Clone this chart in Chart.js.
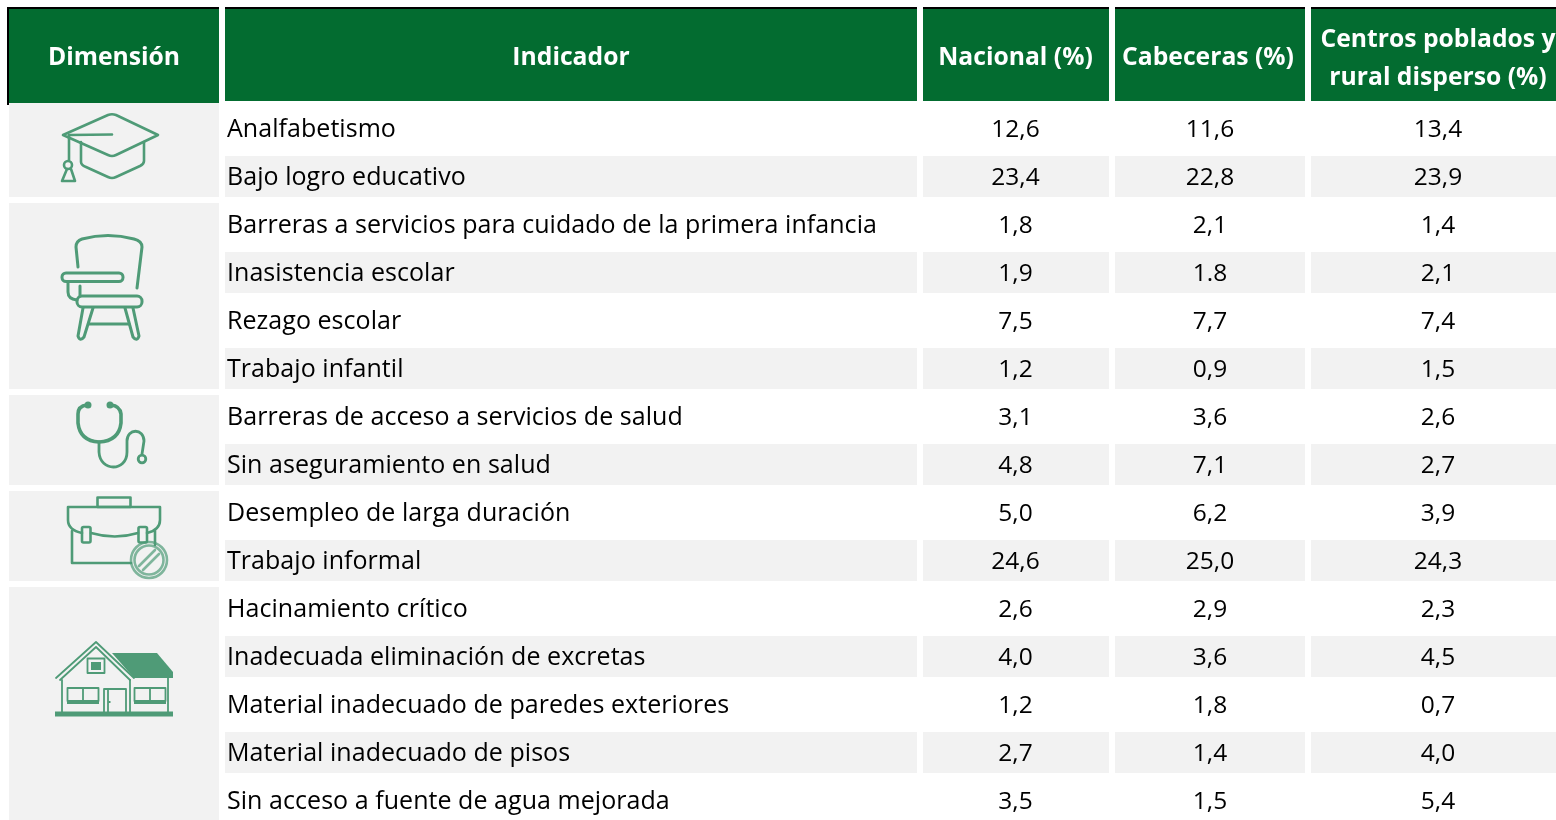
<!DOCTYPE html>
<html>
<head>
<meta charset="utf-8">
<title>Indicadores</title>
<style>
html, body { margin: 0; padding: 0; background: #fff; overflow: hidden; }
#marco { width: 1556px; height: 820px; overflow: hidden; }
canvas { display: block; }
</style>
</head>
<body>
<div id="marco"><canvas id="tabla" width="1556" height="840"></canvas></div>
<script src="https://cdn.jsdelivr.net/npm/chart.js@4/dist/chart.umd.min.js"></script>
<script>
const indicadores = [
    "Analfabetismo",
    "Bajo logro educativo",
    "Barreras a servicios para cuidado de la primera infancia",
    "Inasistencia escolar",
    "Rezago escolar",
    "Trabajo infantil",
    "Barreras de acceso a servicios de salud",
    "Sin aseguramiento en salud",
    "Desempleo de larga duración",
    "Trabajo informal",
    "Hacinamiento crítico",
    "Inadecuada eliminación de excretas",
    "Material inadecuado de paredes exteriores",
    "Material inadecuado de pisos",
    "Sin acceso a fuente de agua mejorada"
];
const nacional = [12.6, 23.4, 1.8, 1.9, 7.5, 1.2, 3.1, 4.8, 5.0, 24.6, 2.6, 4.0, 1.2, 2.7, 3.5];
const cabeceras = [11.6, 22.8, 2.1, 1.8, 7.7, 0.9, 3.6, 7.1, 6.2, 25.0, 2.9, 3.6, 1.8, 1.4, 1.5];
const centrosPoblados = [13.4, 23.9, 1.4, 2.1, 7.4, 1.5, 2.6, 2.7, 3.9, 24.3, 2.3, 4.5, 0.7, 4.0, 5.4];
const filasPorDimension = [2, 4, 2, 2, 5];

const encabezados = ["Dimensión", "Indicador", "Nacional (%)", "Cabeceras (%)", ["Centros poblados y", "rural disperso (%)"]];
const bordesColumna = [[9, 219], [225, 917], [923, 1109], [1115, 1305], [1311, 1556]];
const centrosEncabezado = [114, 571, 1015.5, 1208, 1438];

const VERDE = '#036c30';
const GRIS = '#f2f2f2';
const ICONO = '#4f9b77';
const FUENTE = '"Open Sans", "Noto Sans", sans-serif';

// la tabla original trae este valor con punto
function formato(valor, fila, serie) {
    if (serie === cabeceras && fila === 3) return '1.8';
    return valor.toFixed(1).replace('.', ',');
}

function franjas(borde) {
    return indicadores.map(() => borde);
}

function colorFila(contexto) {
    return contexto.dataIndex % 2 === 1 ? GRIS : '#ffffff';
}

function linea(ctx, puntos) {
    ctx.beginPath();
    puntos.forEach((p, i) => i === 0 ? ctx.moveTo(p[0], p[1]) : ctx.lineTo(p[0], p[1]));
    ctx.stroke();
}

function caja(ctx, x, y, w, h, r) {
    ctx.beginPath();
    ctx.roundRect(x, y, w, h, r);
    ctx.stroke();
}

// ICONOS
function iconoBirrete(ctx) {
    ctx.beginPath();
    ctx.moveTo(63, 135);
    ctx.lineTo(108, 115);
    ctx.quadraticCurveTo(112, 113.5, 116, 115);
    ctx.lineTo(158, 135);
    ctx.lineTo(116, 155);
    ctx.quadraticCurveTo(112, 157, 108, 155);
    ctx.closePath();
    ctx.stroke();
    linea(ctx, [[69, 135], [112, 134.5]]);
    ctx.beginPath();
    ctx.moveTo(81, 142);
    ctx.lineTo(81, 162);
    ctx.quadraticCurveTo(81, 165, 86, 167);
    ctx.lineTo(108, 177);
    ctx.quadraticCurveTo(112, 179, 116, 177);
    ctx.lineTo(140, 166);
    ctx.quadraticCurveTo(144, 164, 144, 161);
    ctx.lineTo(144, 142);
    ctx.stroke();
    linea(ctx, [[69, 135], [69, 160]]);
    ctx.beginPath();
    ctx.arc(68, 165, 4, 0, Math.PI * 2);
    ctx.stroke();
    ctx.beginPath();
    ctx.moveTo(67, 169);
    ctx.lineTo(62, 181);
    ctx.lineTo(75, 181);
    ctx.lineTo(71, 169);
    ctx.stroke();
}

function iconoPupitre(ctx) {
    ctx.lineWidth = 3;
    ctx.beginPath();
    ctx.moveTo(78, 267);
    ctx.lineTo(76, 247);
    ctx.quadraticCurveTo(76, 241, 82, 239);
    ctx.quadraticCurveTo(108, 232, 134, 239);
    ctx.quadraticCurveTo(142, 241, 142, 247);
    ctx.lineTo(137, 288);
    ctx.stroke();
    caja(ctx, 62, 273, 61, 8.5, 4);
    caja(ctx, 77, 296, 65, 11, 5);
    ctx.beginPath();
    ctx.moveTo(68, 282);
    ctx.lineTo(68, 292);
    ctx.quadraticCurveTo(68, 299, 77, 300);
    ctx.stroke();
    linea(ctx, [[80, 286], [80, 296]]);
    ctx.beginPath();
    ctx.moveTo(83, 308);
    ctx.lineTo(78, 336);
    ctx.quadraticCurveTo(80, 342, 84, 337);
    ctx.lineTo(93, 308);
    ctx.stroke();
    ctx.beginPath();
    ctx.moveTo(125, 308);
    ctx.lineTo(133, 337);
    ctx.quadraticCurveTo(137, 342, 139, 336);
    ctx.lineTo(133, 308);
    ctx.stroke();
    linea(ctx, [[89, 324], [129, 324]]);
}

function iconoEstetoscopio(ctx) {
    ctx.lineWidth = 3.6;
    ctx.beginPath();
    ctx.moveTo(87, 405);
    ctx.quadraticCurveTo(78, 406, 78, 414);
    ctx.lineTo(78, 423);
    ctx.quadraticCurveTo(80, 441, 99, 442);
    ctx.quadraticCurveTo(119, 441, 121, 423);
    ctx.lineTo(121, 414);
    ctx.quadraticCurveTo(120, 406, 111, 405);
    ctx.stroke();
    ctx.fillStyle = ICONO;
    ctx.beginPath();
    ctx.arc(88, 405, 3.5, 0, Math.PI * 2);
    ctx.arc(110, 405, 3.5, 0, Math.PI * 2);
    ctx.fill();
    ctx.lineWidth = 2.8;
    ctx.beginPath();
    ctx.moveTo(99, 442);
    ctx.lineTo(99, 452);
    ctx.bezierCurveTo(100, 472, 127, 472, 127, 452);
    ctx.lineTo(127, 441);
    ctx.bezierCurveTo(127, 428, 144, 428, 144, 441);
    ctx.lineTo(142, 454);
    ctx.stroke();
    ctx.beginPath();
    ctx.arc(142, 459, 3.8, 0, Math.PI * 2);
    ctx.stroke();
}

function iconoMaletin(ctx) {
    ctx.strokeRect(97.5, 497.5, 33, 9.5);
    ctx.beginPath();
    ctx.moveTo(138, 533);
    ctx.quadraticCurveTo(115, 540, 91, 533);
    ctx.stroke();
    ctx.beginPath();
    ctx.moveTo(82, 533);
    ctx.quadraticCurveTo(68, 530, 68, 520);
    ctx.lineTo(68, 507);
    ctx.lineTo(160, 507);
    ctx.lineTo(160, 520);
    ctx.quadraticCurveTo(160, 530, 147, 533);
    ctx.stroke();
    linea(ctx, [[72, 531], [72, 563], [131, 563]]);
    linea(ctx, [[155, 531], [155, 545]]);
    caja(ctx, 82, 527, 8.5, 15.5, 1.5);
    caja(ctx, 138.5, 527, 8.5, 15.5, 1.5);
    ctx.save();
    ctx.globalAlpha = 0.7;
    ctx.beginPath();
    ctx.arc(149, 560, 18, 0, Math.PI * 2);
    ctx.stroke();
    ctx.beginPath();
    ctx.arc(149, 560, 14.5, 0, Math.PI * 2);
    ctx.stroke();
    linea(ctx, [[139, 566], [155, 550]]);
    linea(ctx, [[143, 570], [159, 554]]);
    ctx.restore();
}

function iconoCasa(ctx) {
    ctx.fillStyle = ICONO;
    ctx.beginPath();
    ctx.moveTo(112, 653);
    ctx.lineTo(157, 653);
    ctx.lineTo(173, 672);
    ctx.lineTo(173, 678);
    ctx.lineTo(134, 678);
    ctx.closePath();
    ctx.fill();
    ctx.lineWidth = 1.8;
    linea(ctx, [[56, 678], [96, 642], [134, 678]]);
    linea(ctx, [[60, 680], [96, 647], [130, 680]]);
    linea(ctx, [[62, 680], [62, 712]]);
    linea(ctx, [[130, 680], [130, 712]]);
    linea(ctx, [[168, 678], [168, 712]]);
    ctx.fillRect(55, 711.5, 118, 5);
    ctx.strokeRect(87.5, 658.5, 17, 14.5);
    ctx.fillRect(91, 662, 10, 8);
    ctx.strokeRect(67.5, 688, 31, 13);
    ctx.strokeRect(134.5, 688, 31, 13);
    linea(ctx, [[83, 688], [83, 701]]);
    linea(ctx, [[150, 688], [150, 701]]);
    ctx.fillRect(67, 701, 32, 3);
    ctx.fillRect(134, 701, 32, 3);
    linea(ctx, [[104, 712], [104, 689], [126, 689], [126, 712]]);
    linea(ctx, [[108, 689], [108, 712]]);
    ctx.fillRect(108.5, 701, 2, 2);
}

const iconos = [iconoBirrete, iconoPupitre, iconoEstetoscopio, iconoMaletin, iconoCasa];

const pluginTabla = {
    id: 'pluginTabla',
    // bloques de la columna Dimensión
    beforeDatasetsDraw(chart) {
        const ctx = chart.ctx;
        const y = chart.scales.y;
        let fila = 0;
        ctx.save();
        ctx.fillStyle = GRIS;
        filasPorDimension.forEach((n, i) => {
            const top = i === 0 ? 103 : y.getPixelForValue(fila) - 21.5;
            const bottom = y.getPixelForValue(fila + n - 1) + 20.5;
            ctx.fillRect(bordesColumna[0][0], top, bordesColumna[0][1] - bordesColumna[0][0], bottom - top);
            fila += n;
        });
        ctx.restore();
    },
    afterDatasetsDraw(chart) {
        const ctx = chart.ctx;
        const y = chart.scales.y;
        ctx.save();

        // ENCABEZADO
        encabezados.forEach((titulo, c) => {
            const izq = bordesColumna[c][0];
            const der = bordesColumna[c][1];
            ctx.fillStyle = '#000000';
            ctx.fillRect(c === 0 ? 7 : izq, 7, der - izq + (c === 0 ? 2 : 0), 2);
            ctx.fillStyle = VERDE;
            ctx.fillRect(izq, 9, der - izq, (c === 0 ? 103 : 101) - 9);
            ctx.fillStyle = '#ffffff';
            ctx.font = 'bold 24.7px ' + FUENTE;
            ctx.textAlign = 'center';
            ctx.textBaseline = 'alphabetic';
            if (Array.isArray(titulo)) {
                ctx.fillText(titulo[0], centrosEncabezado[c], 47);
                ctx.fillText(titulo[1], centrosEncabezado[c], 85);
            } else {
                ctx.fillText(titulo, centrosEncabezado[c], 65);
            }
        });
        ctx.fillStyle = '#000000';
        ctx.fillRect(7, 7, 2, 98);

        // TEXTO DE LAS FILAS
        ctx.fillStyle = '#000000';
        ctx.font = '25px ' + FUENTE;
        ctx.letterSpacing = '0.05px';
        indicadores.forEach((nombre, i) => {
            ctx.textAlign = 'left';
            ctx.fillText(nombre, 227, y.getPixelForValue(i) + 8.5);
        });
        ctx.letterSpacing = '0px';
        ctx.font = '24.5px ' + FUENTE;
        ctx.textAlign = 'center';
        chart.data.datasets.forEach((ds, c) => {
            if (!ds.valores) return;
            chart.getDatasetMeta(c).data.forEach((barra, i) => {
                ctx.fillText(formato(ds.valores[i], i, ds.valores), ds.centro, barra.y + 8.5);
            });
        });

        // ICONOS
        ctx.strokeStyle = ICONO;
        ctx.fillStyle = ICONO;
        ctx.lineWidth = 2.6;
        ctx.lineJoin = 'round';
        ctx.lineCap = 'round';
        ctx.filter = 'blur(0.5px)';
        iconos.forEach(dibujar => {
            ctx.save();
            dibujar(ctx);
            ctx.restore();
        });
        ctx.restore();
    }
};

const tabla = new Chart(document.getElementById('tabla').getContext('2d'), {
    type: 'bar',
    data: {
        labels: indicadores,
        datasets: [
            { label: 'Indicador', data: franjas(bordesColumna[1]), backgroundColor: colorFila },
            { label: 'Nacional (%)', data: franjas(bordesColumna[2]), backgroundColor: colorFila, valores: nacional, centro: 1015.5 },
            { label: 'Cabeceras (%)', data: franjas(bordesColumna[3]), backgroundColor: colorFila, valores: cabeceras, centro: 1210 },
            { label: 'Centros poblados y rural disperso (%)', data: franjas(bordesColumna[4]), backgroundColor: colorFila, valores: centrosPoblados, centro: 1438 }
        ]
    },
    options: {
        indexAxis: 'y',
        responsive: false,
        animation: false,
        grouped: false,
        barPercentage: 41 / 48,
        categoryPercentage: 1,
        layout: { padding: { top: 104.5, bottom: 15.5, left: 0, right: 0 } },
        plugins: { legend: { display: false }, tooltip: { enabled: false } },
        scales: {
            x: { type: 'linear', min: 0, max: 1556, display: false },
            y: { display: false }
        }
    },
    plugins: [pluginTabla]
});
</script>
</body>
</html>
